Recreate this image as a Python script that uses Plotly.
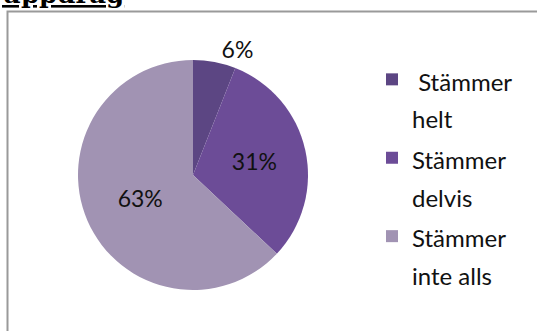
import plotly.graph_objects as go

# Survey answers and their share of respondents (%)
answer_names = ["\u00a0Stämmer<br>helt", "Stämmer<br>delvis", "Stämmer<br>inte alls"]
shares = [6, 31, 63]
slice_colors = ["#5c4683", "#6c4c97", "#a193b3"]
text_positions = ["outside", "inside", "inside"]

W, H = 537, 331
FONT = "Lato"
LEGEND_TEXT_PX = 24


def legend_label(name):
    return "<br>".join(
        f"<span style='font-size:{LEGEND_TEXT_PX}px'>{part}</span>"
        for part in name.split("<br>")
    )


fig = go.Figure()
fig.add_trace(go.Pie(
    labels=[legend_label(n) for n in answer_names],
    values=shares,
    sort=False,
    direction="clockwise",
    rotation=0,
    marker=dict(colors=slice_colors, line=dict(width=0)),
    texttemplate="%{percent:.0%}",
    textposition=text_positions,
    insidetextorientation="horizontal",
    textfont=dict(family=FONT, size=23, color="#111111"),
    domain=dict(x=[77 / W, 309 / W], y=[1 - 290 / H, 1 - 60 / H]),
    hoverinfo="percent",
))

# Heading text cut off at the top edge
fig.add_annotation(
    text="<b><u>uppdrag</u></b>",
    xref="paper", yref="paper", x=0, y=1 + 6 / H,
    xanchor="left", yanchor="middle",
    showarrow=False,
    font=dict(family="DejaVu Serif", size=26, color="#000000"),
)

# Chart frame
fig.add_shape(
    type="rect", xref="paper", yref="paper",
    x0=7.5 / W, y0=-0.05, x1=1.05, y1=1 - 11.5 / H,
    line=dict(color="#9a9a9a", width=2),
)

fig.update_layout(
    width=W, height=H,
    margin=dict(l=0, r=0, t=0, b=0),
    paper_bgcolor="white",
    plot_bgcolor="white",
    showlegend=True,
    legend=dict(
        x=372 / W, y=1 - 54 / H, xanchor="left", yanchor="top",
        font=dict(family=FONT, size=29, color="#111111"),
        valign="top",
        bgcolor="rgba(0,0,0,0)",
        itemclick=False,
    ),
)

fig.write_html("out.html")
